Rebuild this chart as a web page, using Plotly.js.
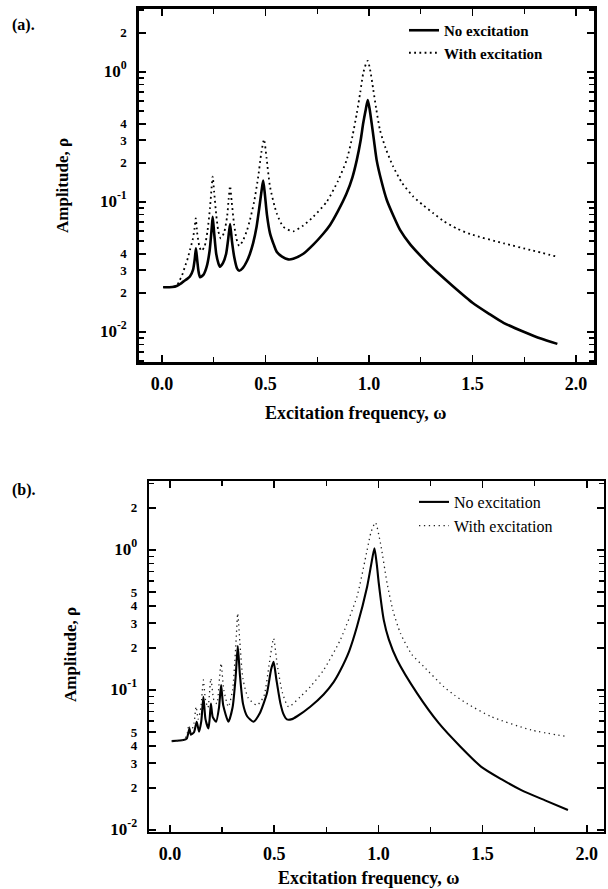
<!DOCTYPE html>
<html>
<head>
<meta charset="utf-8">
<script src="https://cdn.plot.ly/plotly-3.0.1.min.js"></script>
<style>html,body{margin:0;padding:0;background:#fff;}#chart{width:608px;height:889px;}</style>
</head>
<body>
<div id="chart"></div>
<script>
// ---------- Panel (a) data ----------
var aOmegaNo = [0.006,0.05,0.071,0.09,0.103,0.12,0.135,0.15,0.158,0.164,0.17,0.177,0.184,0.2,0.216,0.23,0.24,0.245,0.252,0.262,0.272,0.28,0.295,0.31,0.32,0.329,0.338,0.35,0.362,0.373,0.39,0.41,0.425,0.44,0.457,0.47,0.482,0.489,0.497,0.507,0.522,0.54,0.554,0.58,0.61,0.634,0.683,0.731,0.779,0.812,0.85,0.892,0.92,0.941,0.96,0.972,0.985,0.994,1.003,1.013,1.025,1.037,1.06,1.086,1.12,1.15,1.2,1.246,1.29,1.33,1.407,1.5,1.58,1.652,1.75,1.83,1.91];
var aRhoNo = [0.0221,0.0222,0.0226,0.0235,0.0244,0.0255,0.0267,0.030,0.036,0.044,0.036,0.029,0.0264,0.0275,0.0318,0.042,0.062,0.077,0.058,0.040,0.034,0.0318,0.034,0.040,0.052,0.0677,0.050,0.037,0.031,0.0296,0.031,0.035,0.040,0.048,0.0645,0.090,0.125,0.146,0.115,0.080,0.0574,0.047,0.0415,0.038,0.0362,0.0366,0.040,0.047,0.057,0.0666,0.085,0.1166,0.155,0.21,0.30,0.403,0.52,0.609,0.52,0.403,0.29,0.21,0.145,0.1036,0.077,0.061,0.047,0.039,0.033,0.0288,0.0224,0.0168,0.0138,0.0117,0.0100,0.0089,0.0081];
var aOmegaWith = [0.006,0.05,0.071,0.085,0.095,0.111,0.125,0.135,0.148,0.157,0.163,0.17,0.18,0.19,0.205,0.22,0.232,0.24,0.245,0.252,0.262,0.272,0.284,0.30,0.315,0.322,0.329,0.337,0.348,0.36,0.373,0.39,0.41,0.425,0.445,0.465,0.48,0.493,0.505,0.522,0.554,0.586,0.634,0.683,0.731,0.796,0.85,0.892,0.92,0.941,0.958,0.972,0.985,0.994,1.005,1.021,1.035,1.053,1.08,1.117,1.16,1.214,1.26,1.311,1.362,1.424,1.491,1.652,1.78,1.91];
var aRhoWith = [0.0221,0.0222,0.0226,0.025,0.0267,0.0318,0.037,0.0427,0.051,0.062,0.0749,0.058,0.046,0.042,0.045,0.060,0.090,0.13,0.157,0.12,0.080,0.060,0.0525,0.058,0.078,0.105,0.133,0.10,0.068,0.052,0.0459,0.050,0.060,0.0727,0.100,0.157,0.24,0.303,0.22,0.131,0.0819,0.0645,0.0595,0.066,0.077,0.1005,0.145,0.21,0.32,0.481,0.70,0.977,1.15,1.22,1.05,0.727,0.52,0.358,0.26,0.187,0.14,0.11,0.095,0.0819,0.071,0.0625,0.0565,0.048,0.0427,0.0379];

// ---------- Panel (b) data ----------
var bOmegaNo = [0.008,0.064,0.08,0.093,0.10,0.115,0.128,0.139,0.15,0.16,0.17,0.184,0.19,0.196,0.205,0.221,0.235,0.245,0.255,0.28,0.30,0.315,0.325,0.335,0.35,0.37,0.40,0.43,0.465,0.485,0.497,0.51,0.53,0.545,0.561,0.585,0.61,0.673,0.737,0.785,0.817,0.86,0.897,0.946,0.965,0.981,0.992,1.002,1.026,1.05,1.09,1.186,1.29,1.394,1.494,1.59,1.686,1.80,1.91];
var bRhoNo = [0.0432,0.044,0.045,0.053,0.048,0.050,0.0594,0.0504,0.060,0.0895,0.062,0.0532,0.062,0.080,0.064,0.0594,0.075,0.1086,0.078,0.0594,0.075,0.125,0.206,0.13,0.080,0.065,0.0594,0.068,0.095,0.14,0.159,0.12,0.080,0.067,0.0617,0.062,0.065,0.076,0.093,0.114,0.138,0.19,0.283,0.547,0.78,1.03,0.80,0.578,0.316,0.23,0.164,0.0947,0.058,0.0394,0.0283,0.0231,0.0193,0.0163,0.0139];
var bOmegaWith = [0.008,0.064,0.08,0.09,0.10,0.115,0.125,0.135,0.148,0.16,0.17,0.182,0.196,0.21,0.225,0.235,0.245,0.258,0.28,0.30,0.315,0.325,0.335,0.35,0.375,0.417,0.45,0.475,0.497,0.515,0.54,0.569,0.625,0.673,0.737,0.817,0.897,0.946,0.965,0.986,1.01,1.042,1.07,1.106,1.16,1.218,1.314,1.365,1.426,1.542,1.734,1.91];
var bRhoWith = [0.0432,0.044,0.047,0.056,0.050,0.058,0.076,0.062,0.075,0.118,0.085,0.075,0.121,0.085,0.08,0.11,0.155,0.10,0.076,0.10,0.20,0.353,0.22,0.12,0.088,0.078,0.09,0.15,0.234,0.15,0.095,0.076,0.0895,0.1056,0.139,0.228,0.464,1.0,1.35,1.57,1.12,0.578,0.37,0.254,0.18,0.147,0.1056,0.092,0.080,0.0645,0.0518,0.0464];

// ---------- Tick labels ----------
var D2 = '<span style="font-size:17px">10<sup>-2</sup></span>';
var D1 = '<span style="font-size:17px">10<sup>-1</sup></span>';
var D0 = '<span style="font-size:17px">10<sup>0</sup></span>';
var aTickVals = [0.01,0.02,0.03,0.04,0.1,0.2,0.3,0.4,1,2];
var aTickText = [D2,'2','3','4',D1,'2','3','4',D0,'2'];
var aMinorVals = [0.006,0.007,0.008,0.009,0.05,0.06,0.07,0.08,0.09,0.5,0.6,0.7,0.8,0.9,3];
var bTickVals = [0.01,0.02,0.03,0.04,0.05,0.1,0.2,0.3,0.4,0.5,1,2];
var bTickText = [D2,'2','3','4','5',D1,'2','3','4','5',D0,'2'];
var bMinorVals = [0.06,0.07,0.08,0.09,0.6,0.7,0.8,0.9,3];
var legendNames = ['No excitation','With excitation'];
var xTitle = 'Excitation frequency, \u03c9';
var yTitle = 'Amplitude, \u03c1';

var serif = 'Liberation Serif, Times New Roman, serif';

var traces = [
  {x:aOmegaNo, y:aRhoNo, xaxis:'x', yaxis:'y', mode:'lines', name:legendNames[0], legend:'legend',
   line:{color:'#000', width:2.6, shape:'spline', smoothing:0.6}},
  {x:aOmegaWith, y:aRhoWith, xaxis:'x', yaxis:'y', mode:'lines', name:legendNames[1], legend:'legend',
   line:{color:'#000', width:1.8, dash:'1.8px,3.4px', shape:'spline', smoothing:0.6}},
  {x:bOmegaNo, y:bRhoNo, xaxis:'x2', yaxis:'y2', mode:'lines', name:legendNames[0], legend:'legend2',
   line:{color:'#000', width:2.1, shape:'spline', smoothing:0.6}},
  {x:bOmegaWith, y:bRhoWith, xaxis:'x2', yaxis:'y2', mode:'lines', name:legendNames[1], legend:'legend2',
   line:{color:'#222', width:1.3, dash:'1.3px,3.6px', shape:'spline', smoothing:0.6}}
];

function xAxis(domain, range, anchor, lw){
  return {domain:domain, range:range, anchor:anchor, tick0:0, dtick:0.5, tickformat:'.1f',
    ticks:'inside', ticklen:7, tickwidth:1.6, tickcolor:'#000',
    minor:{dtick:0.25, ticks:'inside', ticklen:5, tickwidth:1.3, tickcolor:'#000'},
    showline:true, linewidth:lw, linecolor:'#000', mirror:'ticks',
    showgrid:false, zeroline:false, ticklabelstandoff:4,
    tickfont:{family:serif, size:18, color:'#000', weight:'bold'}};
}
function yAxis(domain, range, anchor, vals, text, minorVals, lw){
  return {type:'log', domain:domain, range:range, anchor:anchor,
    tickmode:'array', tickvals:vals, ticktext:text,
    ticks:'inside', ticklen:7, tickwidth:1.6, tickcolor:'#000',
    minor:{tickmode:'array', tickvals:minorVals, ticks:'inside', ticklen:5, tickwidth:1.4, tickcolor:'#000', showgrid:false},
    showline:true, linewidth:lw, linecolor:'#000', mirror:'ticks',
    showgrid:false, zeroline:false, ticklabelstandoff:7,
    tickfont:{family:serif, size:13, color:'#000', weight:'bold'}};
}

var layout = {
  width:608, height:889,
  margin:{l:0, r:0, t:0, b:0},
  paper_bgcolor:'#fff', plot_bgcolor:'#fff',
  showlegend:true,
  xaxis: xAxis([0.2286,0.9770], [-0.111,2.087], 'y', 2.6),
  yaxis: yAxis([0.5928,0.9899], [-2.231,0.485], 'x', aTickVals, aTickText, aMinorVals, 2.6),
  xaxis2: xAxis([0.2451,0.9934], [-0.101,2.083], 'y2', 2.2),
  yaxis2: yAxis([0.0641,0.4589], [-2.014,0.493], 'x2', bTickVals, bTickText, bMinorVals, 2.2),
  legend:{x:404/608, xanchor:'left', y:1-14/889, yanchor:'top', bgcolor:'rgba(0,0,0,0)',
    font:{family:serif, size:15, color:'#000', weight:'bold'}, tracegroupgap:0},
  legend2:{x:414/608, xanchor:'left', y:1-485/889, yanchor:'top', bgcolor:'rgba(0,0,0,0)',
    font:{family:serif, size:16, color:'#000'}, tracegroupgap:0},
  annotations:[
    {text:'<b>(a).</b>', xref:'paper', yref:'paper', x:10/608, y:1-25/889, xanchor:'left', yanchor:'middle', showarrow:false, font:{family:serif, size:16, color:'#000'}},
    {text:'<b>(b).</b>', xref:'paper', yref:'paper', x:10/608, y:1-490/889, xanchor:'left', yanchor:'middle', showarrow:false, font:{family:serif, size:16, color:'#000'}},
    {text:'<b>'+xTitle+'</b>', xref:'paper', yref:'paper', x:355/608, y:1-413/889, xanchor:'center', yanchor:'middle', showarrow:false, font:{family:serif, size:18, color:'#000'}},
    {text:'<b>'+xTitle+'</b>', xref:'paper', yref:'paper', x:368/608, y:1-878/889, xanchor:'center', yanchor:'middle', showarrow:false, font:{family:serif, size:18, color:'#000'}},
    {text:'<b>'+yTitle+'</b>', xref:'paper', yref:'paper', x:63/608, y:1-186/889, xanchor:'center', yanchor:'middle', textangle:-90, showarrow:false, font:{family:serif, size:17, color:'#000'}},
    {text:'<b>'+yTitle+'</b>', xref:'paper', yref:'paper', x:70/608, y:1-655/889, xanchor:'center', yanchor:'middle', textangle:-90, showarrow:false, font:{family:serif, size:17, color:'#000'}}
  ]
};

Plotly.newPlot('chart', traces, layout, {displayModeBar:false, staticPlot:true});
</script>
</body>
</html>
